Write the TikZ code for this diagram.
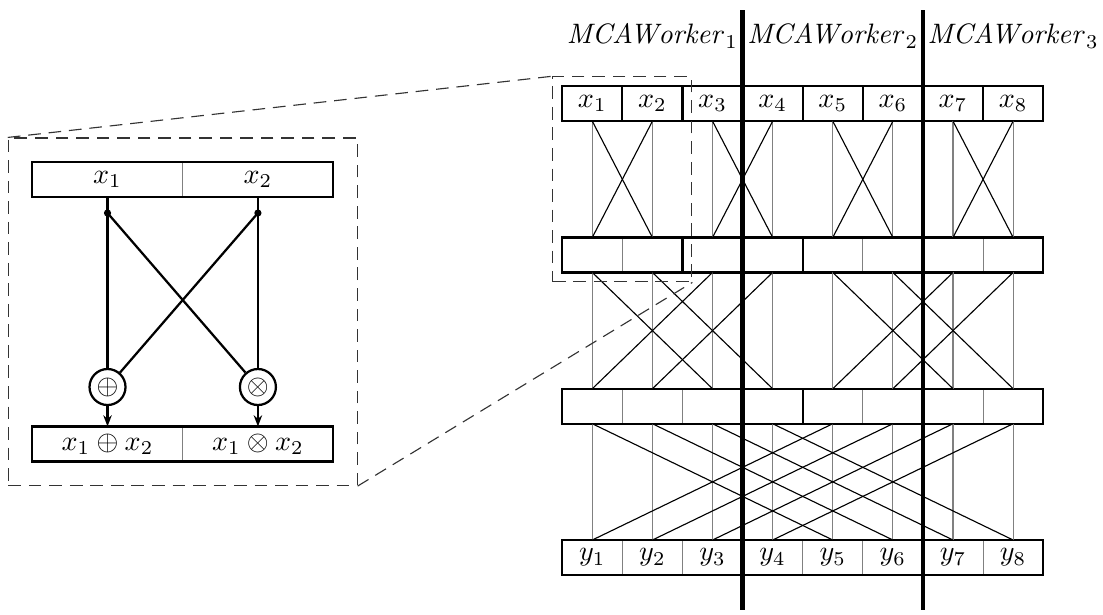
\documentclass[tikz,border=0pt]{standalone}
\usetikzlibrary{calc, positioning, fit, arrows.meta}

\begin{document}
\begin{tikzpicture}[
  cell/.style={draw=gray, thin, minimum width=0.7515cm, minimum height=0.4375cm,
               inner sep=0pt, outer sep=0pt},
  bigcell/.style={cell, minimum width=1.88cm},
  group/.style={draw, thick},
  wire/.style={gray, thin},
  swap/.style={black, thin},
  sep/.style={black, line width=1.6pt},
  zoombox/.style={draw=black!80, dash pattern=on 4.5pt off 2.8pt},
  op/.style={circle, draw, thick, minimum size=0.45cm, inner sep=0pt},
  dot/.style={circle, fill, inner sep=0pt, minimum size=0.09cm},
  link/.style={thick},
  flow/.style={-{Stealth[length=4pt]}, thick},
]
\useasboundingbox (0,0) rectangle (13.7875,-7.6875);

% layers of the network
\foreach \i in {1,...,8} {
  \node[cell] (row1-\i) at ({7.028+0.7515*(\i-0.5)},-1.296) {$x_{\i}$};
  \node[cell] (row2-\i) at ({7.028+0.7515*(\i-0.5)},-3.187) {};
  \node[cell] (row3-\i) at ({7.028+0.7515*(\i-0.5)},-5.078) {};
  \node[cell] (row4-\i) at ({7.028+0.7515*(\i-0.5)},-6.969) {$y_{\i}$};
}
\foreach \r/\a/\b in {1/1/1, 1/2/2, 1/3/3, 1/4/4, 1/5/5, 1/6/6, 1/7/7, 1/8/8,
                      2/1/2, 2/3/4, 2/5/6, 2/7/8, 3/1/4, 3/5/8, 4/1/8}
  \draw[group] (row\r-\a.north west) rectangle (row\r-\b.south east);

% butterflies
\foreach \r/\s in {1/2, 2/3, 3/4}
  \foreach \i in {1,...,8}
    \draw[wire] (row\r-\i.south) -- (row\s-\i.north);
\foreach \a/\b in {1/2, 2/1, 3/4, 4/3, 5/6, 6/5, 7/8, 8/7}
  \draw[swap] (row1-\a.south) -- (row2-\b.north);
\foreach \a/\b in {1/3, 2/4, 3/1, 4/2, 5/7, 6/8, 7/5, 8/6}
  \draw[swap] (row2-\a.south) -- (row3-\b.north);
\foreach \a/\b in {1/5, 2/6, 3/7, 4/8, 5/1, 6/2, 7/3, 8/4}
  \draw[swap] (row3-\a.south) -- (row4-\b.north);

% zoomed butterfly
\node[bigcell] (in1) at (1.344,-2.244) {$x_1$};
\node[bigcell, right=0pt of in1] (in2) {$x_2$};
\node[bigcell] (out1) at (1.344,-5.55) {$x_1 \oplus x_2$};
\node[bigcell, right=0pt of out1] (out2) {$x_1 \otimes x_2$};
\draw[group] (in1.north west) rectangle (in2.south east);
\draw[group] (out1.north west) rectangle (out2.south east);

\node[dot] (d1) at ($(in1.south)+(0,-0.2)$) {};
\node[dot] (d2) at ($(in2.south)+(0,-0.2)$) {};
\node[op] (plus) at ($(in1.south)+(0,-2.375)$) {$\oplus$};
\node[op] (times) at ($(in2.south)+(0,-2.375)$) {$\otimes$};

\draw[link] (in1.south) -- (d1.center) -- (plus);
\draw[link] (in2.south) -- (d2.center) -- (times);
\draw[link] (d1.center) -- (times);
\draw[link] (d2.center) -- (plus);
\draw[flow] (plus) -- (out1);
\draw[flow] (times) -- (out2);

\node[zoombox, fit=(row1-1)(row2-2)] (zoomR) {};
\node[zoombox, fit=(in1)(in2)(out1)(out2), inner sep=0.3cm] (zoomL) {};
\draw[zoombox] (zoomL.north west) -- (zoomR.north west);
\draw[zoombox] (zoomL.south east) -- (zoomR.south east);

% workers
\node[anchor=base] (worker1) at (row1-2 |- 0,-0.55) {$\mathit{MCAWorker}_1$};
\node[anchor=base] (worker2) at (row1-5 |- 0,-0.55) {$\mathit{MCAWorker}_2$};
\node[anchor=base] (worker3) at (row1-8 |- 0,-0.55) {$\mathit{MCAWorker}_3$};
\draw[sep] ([yshift=0.946cm]row1-3.north east) -- ([yshift=-0.4375cm]row4-3.south east);
\draw[sep] ([yshift=0.946cm]row1-6.north east) -- ([yshift=-0.4375cm]row4-6.south east);
\end{tikzpicture}
\end{document}
